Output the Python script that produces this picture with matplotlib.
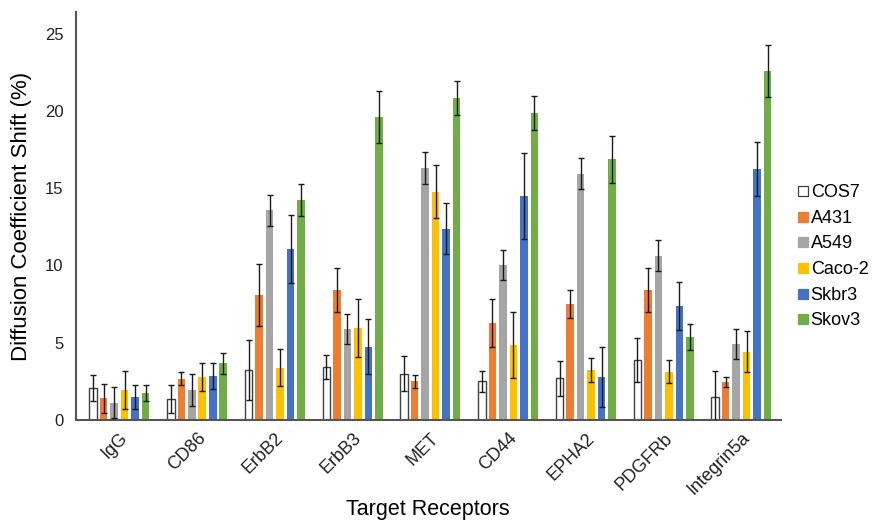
import numpy as np
import matplotlib.pyplot as plt
from matplotlib.lines import Line2D

plt.rcParams['font.family'] = ['Liberation Sans', 'DejaVu Sans']

receptors = ['IgG', 'CD86', 'ErbB2', 'ErbB3', 'MET', 'CD44', 'EPHA2', 'PDGFRb', 'Integrin5a']
cell_lines = ['COS7', 'A431', 'A549', 'Caco-2', 'Skbr3', 'Skov3']

cos7 = [2.05, 1.34, 3.24, 3.45, 3.0, 2.5, 2.7, 3.89, 1.49]
cos7_err = [0.85, 0.9, 1.95, 0.78, 1.14, 0.7, 1.12, 1.4, 1.7]
a431 = [1.4, 2.68, 8.1, 8.4, 2.5, 6.26, 7.53, 8.42, 2.48]
a431_err = [0.93, 0.43, 2.0, 1.42, 0.4, 1.56, 0.9, 1.42, 0.32]
a549 = [1.12, 1.94, 13.56, 5.89, 16.3, 10.04, 15.93, 10.62, 4.92]
a549_err = [1.0, 1.04, 1.03, 1.0, 1.05, 0.97, 1.0, 1.0, 1.0]
caco2 = [1.94, 2.78, 3.39, 5.96, 14.77, 4.86, 3.24, 3.13, 4.42]
caco2_err = [1.25, 0.9, 1.2, 1.9, 1.7, 2.14, 0.8, 0.76, 1.34]
skbr3 = [1.47, 2.85, 11.05, 4.75, 12.37, 14.5, 2.78, 7.38, 16.24]
skbr3_err = [0.78, 0.82, 2.2, 1.8, 1.65, 2.8, 1.95, 1.58, 1.74]
skov3 = [1.73, 3.67, 14.23, 19.6, 20.85, 19.88, 16.86, 5.38, 22.6]
skov3_err = [0.52, 0.69, 1.04, 1.7, 1.1, 1.1, 1.53, 0.86, 1.67]

values = [cos7, a431, a549, caco2, skbr3, skov3]
errors = [cos7_err, a431_err, a549_err, caco2_err, skbr3_err, skov3_err]
colors = ['white', '#ED7D31', '#A5A5A5', '#FFC000', '#4472C4', '#70AD47']

fig = plt.figure(figsize=(8.75, 5.22), dpi=100)
ax = fig.add_axes([0.0869, 0.1954, 0.8057, 0.7816])

x = np.arange(len(receptors))
pitch = 0.135
width = 0.099
for i, (vals, errs, col) in enumerate(zip(values, errors, colors)):
    pos = x + (i - 2.5) * pitch
    edge = '#404040' if i == 0 else 'none'
    ax.bar(pos, vals, width, color=col, edgecolor=edge, linewidth=1.0, zorder=2)
    ax.errorbar(pos, vals, yerr=errs, fmt='none', ecolor='#1a1a1a',
                elinewidth=1.0, capsize=2.5, capthick=1.0, zorder=3)

ax.set_xlim(-0.557, 8.51)
ax.set_ylim(0, 26.4)
ax.set_yticks([0, 5, 10, 15, 20, 25])
ax.set_xticks(x)
ax.set_xticklabels(receptors, rotation=45, ha='right', rotation_mode='anchor')
ax.tick_params(axis='both', length=0, colors='#222222')
ax.tick_params(axis='y', pad=9, labelsize=12)
ax.tick_params(axis='x', pad=7, labelsize=13)

for s in ['top', 'right']:
    ax.spines[s].set_visible(False)
for s in ['left', 'bottom']:
    ax.spines[s].set_color('#555555')
    ax.spines[s].set_linewidth(1.5)

ax.set_ylabel('Diffusion Coefficient Shift (%)', fontsize=16, labelpad=9)
fig.text(0.4886, 1 - 510 / 522, 'Target Receptors', fontsize=15.5,
         ha='center', va='center')

handles = [Line2D([], [], linestyle='none', marker='s', markersize=7,
                  markerfacecolor=c, markeredgecolor=('#404040' if i == 0 else c),
                  markeredgewidth=0.9)
           for i, c in enumerate(colors)]
fig.legend(handles, cell_lines, loc='center left', bbox_to_anchor=(0.912, 0.508),
           frameon=False, fontsize=13, handlelength=0.5,
           handletextpad=0.2, labelspacing=0.48, borderpad=0, borderaxespad=0)

fig.savefig('out.png', dpi=100)
